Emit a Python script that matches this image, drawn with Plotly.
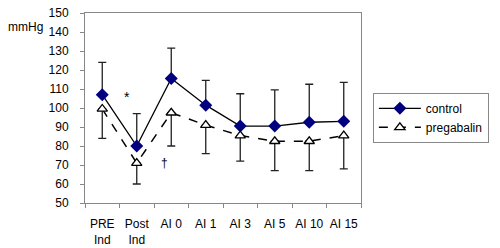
import plotly.graph_objects as go

categories = ["PRE<br>Ind", "Post<br>Ind", "AI 0", "AI 1", "AI 3", "AI 5", "AI 10", "AI 15"]
control = [107, 80, 115.5, 101.5, 90.5, 90.5, 92.5, 93]
control_upper = [124, 97, 131.5, 114.5, 107.5, 109.5, 112.5, 113.5]
pregabalin = [99.5, 71, 97.5, 91, 85.5, 82.5, 82.5, 85.5]
pregabalin_lower = [84, 60, 80, 76, 72, 67, 67, 68]

ctrl_plus = [u - v for u, v in zip(control_upper, control)]
preg_minus = [v - l for v, l in zip(pregabalin, pregabalin_lower)]
zeros = [0] * len(categories)

font = "Liberation Sans, Arial, sans-serif"

fig = go.Figure()
fig.add_trace(go.Scatter(
    x=categories, y=control, name="control", mode="lines+markers",
    line=dict(color="black", width=1.3),
    marker=dict(symbol="diamond", size=10, color="#000080", line=dict(width=0)),
    error_y=dict(type="data", symmetric=False, array=ctrl_plus, arrayminus=zeros,
                 color="#222222", thickness=1.3, width=4),
))
fig.add_trace(go.Scatter(
    x=categories, y=pregabalin, name="pregabalin", mode="lines+markers",
    line=dict(color="black", width=1.5, dash="dash"),
    marker=dict(symbol="triangle-up", size=9, color="white", line=dict(color="black", width=1.3)),
    error_y=dict(type="data", symmetric=False, array=zeros, arrayminus=preg_minus,
                 color="#222222", thickness=1.3, width=4),
))

fig.add_annotation(x=0.72, y=106, xref="x", yref="y", text="*", showarrow=False,
                   font=dict(family=font, size=14, color="black"))
fig.add_annotation(x=1.8, y=71, xref="x", yref="y", text="†", showarrow=False,
                   font=dict(family=font, size=12, color="black"))
fig.add_annotation(x=-0.214, y=0.926, xref="paper", yref="paper", text="mmHg",
                   showarrow=False, xanchor="center", yanchor="middle",
                   font=dict(family=font, size=12, color="black"))

fig.update_layout(
    width=500, height=248,
    margin=dict(l=85, r=139, t=13, b=45, autoexpand=False),
    paper_bgcolor="white", plot_bgcolor="white",
    font=dict(family=font, size=12, color="black"),
    showlegend=True,
    legend=dict(x=1.043, y=0.58, xanchor="left", yanchor="top",
                bordercolor="#888888", borderwidth=1, bgcolor="white",
                font=dict(family=font, size=12, color="black"),
                tracegroupgap=0, itemwidth=42),
    xaxis=dict(type="category", tickson="boundaries", ticks="outside", ticklen=4,
               tickangle=0, tickcolor="#888888", showline=True, linecolor="#888888",
               linewidth=1, mirror=True, showgrid=False, range=[-0.5, 7.5],
               automargin=False, ticklabelstandoff=10),
    yaxis=dict(range=[50, 150], dtick=10, ticks="outside", ticklen=4,
               tickcolor="#888888", showline=True, linecolor="#888888", linewidth=1,
               mirror=True, showgrid=False, zeroline=False, automargin=False,
               ticklabelstandoff=9),
)

fig.write_html("out.html", config={"displayModeBar": False},
               post_script="document.body.style.margin='0';")
